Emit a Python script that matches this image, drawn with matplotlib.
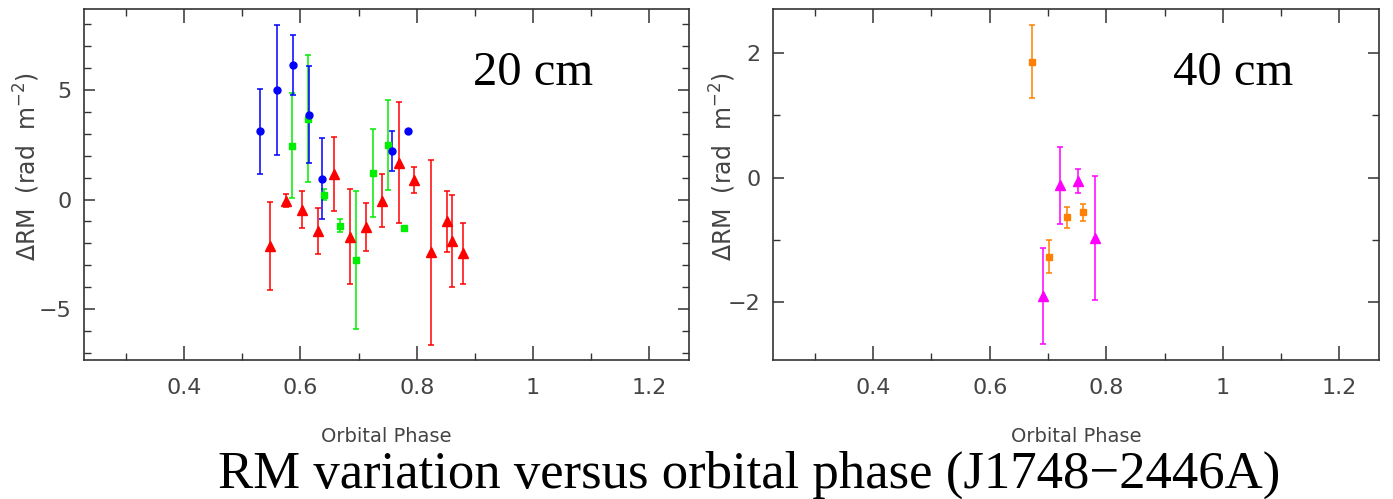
import matplotlib
matplotlib.use('Agg')
import matplotlib.pyplot as plt
from matplotlib.ticker import MultipleLocator

# 20 cm observations: three sessions (blue circles, green squares, red triangles)
phase_20_blue = [0.531, 0.560, 0.587, 0.614, 0.638, 0.757, 0.785]
rm_20_blue = [3.10, 4.98, 6.13, 3.87, 0.94, 2.21, 3.14]
err_20_blue = [1.95, 2.95, 1.35, 2.20, 1.85, 0.90, 0.04]

phase_20_green = [0.585, 0.613, 0.640, 0.668, 0.696, 0.725, 0.750, 0.778]
rm_20_green = [2.45, 3.68, 0.21, -1.19, -2.75, 1.19, 2.47, -1.29]
err_20_green = [2.40, 2.90, 0.25, 0.30, 3.15, 2.00, 2.05, 0.04]

phase_20_red = [0.548, 0.575, 0.603, 0.630, 0.658, 0.686, 0.713,
                0.741, 0.769, 0.796, 0.825, 0.852, 0.861, 0.879]
rm_20_red = [-2.13, -0.05, -0.46, -1.45, 1.17, -1.69, -1.26,
             -0.05, 1.68, 0.90, -2.41, -1.00, -1.90, -2.45]
err_20_red = [2.00, 0.30, 0.85, 1.05, 1.70, 2.15, 1.10,
              1.20, 2.75, 0.60, 4.20, 1.40, 2.10, 1.40]

# 40 cm observations
phase_40_orange = [0.673, 0.702, 0.732, 0.760]
rm_40_orange = [1.865, -1.27, -0.64, -0.56]
err_40_orange = [0.59, 0.27, 0.17, 0.14]

phase_40_magenta = [0.692, 0.721, 0.751, 0.780]
rm_40_magenta = [-1.90, -0.12, -0.05, -0.97]
err_40_magenta = [0.77, 0.62, 0.19, 1.00]

xticks = [0.4, 0.6, 0.8, 1.0, 1.2]
xticklabels = ['0.4', '0.6', '0.8', '1', '1.2']

ylabel = r'$\Delta$RM  (rad  m$^{-2}$)'
frame = '#333333'
textgrey = '#444444'


def style_axes(ax, ylim, ymajor, yminor):
    ax.set_xlim(0.228, 1.268)
    ax.set_ylim(*ylim)
    ax.set_xticks(xticks)
    ax.set_xticklabels(xticklabels)
    ax.xaxis.set_minor_locator(MultipleLocator(0.1))
    ax.yaxis.set_major_locator(MultipleLocator(ymajor))
    ax.yaxis.set_minor_locator(MultipleLocator(yminor))
    ax.yaxis.set_major_formatter(
        matplotlib.ticker.FuncFormatter(lambda v, p: '%d' % v if v >= 0 else '\u2212%d' % -v))
    ax.tick_params(which='both', direction='in', top=True, right=True,
                   color=frame, labelcolor=textgrey, labelsize=16)
    ax.tick_params(axis='x', which='major', length=10, width=1.1, pad=13)
    ax.tick_params(axis='x', which='minor', length=5, width=1.0)
    ax.tick_params(axis='y', which='major', length=8, width=1.1, pad=9)
    ax.tick_params(axis='y', which='minor', length=5, width=1.0)
    for s in ax.spines.values():
        s.set_color(frame)
        s.set_linewidth(1.2)
    ax.set_xlabel('Orbital Phase', fontsize=14, color=textgrey)
    ax.xaxis.set_label_coords(0.5, -0.19)
    ax.set_ylabel(ylabel, fontsize=17, color=textgrey)


def plot_set(ax, x, y, e, color, marker, ms):
    # capsize is half the cap width in matplotlib
    ax.errorbar(x, y, yerr=e, fmt=marker, color=color, ms=ms, mec=color,
                elinewidth=1.1, capsize=2.5, capthick=1.1)


fig = plt.figure(figsize=(13.93, 4.99), dpi=100)
ax1 = fig.add_axes((0.0603, 0.2786, 0.4343, 0.7034))
ax2 = fig.add_axes((0.5549, 0.2786, 0.4350, 0.7034))

plot_set(ax1, phase_20_red, rm_20_red, err_20_red, '#ff0000', '^', 7)
plot_set(ax1, phase_20_green, rm_20_green, err_20_green, '#00ee00', 's', 5)
plot_set(ax1, phase_20_blue, rm_20_blue, err_20_blue, '#0000ff', 'o', 5)

plot_set(ax2, phase_40_orange, rm_40_orange, err_40_orange, '#ff8000', 's', 5)
plot_set(ax2, phase_40_magenta, rm_40_magenta, err_40_magenta, '#ff00ff', '^', 7)

style_axes(ax1, (-7.31, 8.68), 5, 1)
style_axes(ax2, (-2.93, 2.71), 2, 1)
ax1.yaxis.set_label_coords(-0.069, 0.55)
ax2.yaxis.set_label_coords(-0.058, 0.55)

serif = ['Liberation Serif', 'DejaVu Serif']
ax1.text(0.643, 0.783, '20 cm', transform=ax1.transAxes, fontsize=35,
         family=serif, va='baseline', ha='left')
ax2.text(0.660, 0.783, '40 cm', transform=ax2.transAxes, fontsize=35,
         family=serif, va='baseline', ha='left')

fig.text(749 / 1393, 1 - 488 / 499, 'RM variation versus orbital phase (J1748\u22122446A)',
         fontsize=38, family=serif, ha='center', va='baseline')

fig.savefig('out.png', dpi=100)
